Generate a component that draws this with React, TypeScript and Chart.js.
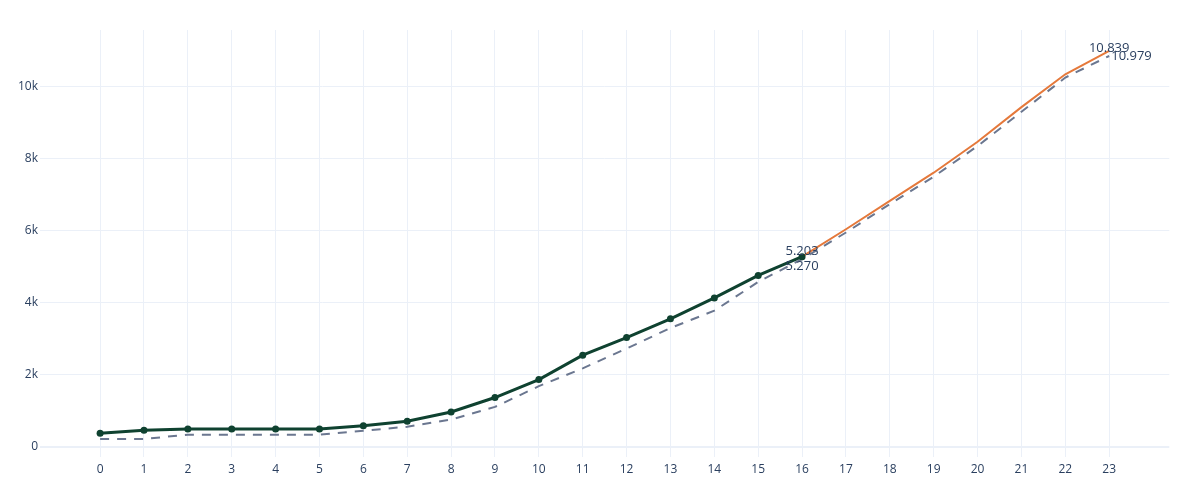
import React, { useEffect, useRef } from "react";
import { Chart, registerables } from "chart.js";

Chart.register(...registerables);

const xTicks = Array.from({ length: 24 }, (_, i) => i);
const categories = [0, 1, 2, 3, 4, 5, 6, 7, 8, 9, 10, 11, 12, 13, 14, 15, 16, 17, 18, 19, 20, 21, 22, 23];
const actual = [370, 450, 490, 490, 490, 490, 580, 705, 960, 1360, 1860, 2535, 3025, 3545, 4125, 4750, 5270];
const forecast = [null, null, null, null, null, null, null, null, null, null, null, null, null, null, null, null, 5270, 6030, 6820, 7600, 8460, 9420, 10330, 10979];
const baseline = [210, 210, 330, 330, 330, 330, 440, 550, 750, 1100, 1675, 2170, 2720, 3290, 3770, 4570, 5203, 5940, 6730, 7490, 8340, 9290, 10240, 10839];
const yTicks = [0, 2000, 4000, 6000, 8000, 10000];
const labelTexts = ["5.203", "5.270", "10.839", "10.979"];
const labelAnchors = [
  { x: 16, y: 5270 },
  { x: 16, y: 5270 },
  { x: 23, y: 10979 },
  { x: 23, y: 10839 },
];

const TEXT = "#2a3f5f";
const GRID = "#EBF0F8";

const labelPlugin = {
  id: "endLabels",
  afterDatasetsDraw(chart: any) {
    const { ctx, scales } = chart;
    const offsets = [
      { dx: 0, dy: -5, align: "center" },
      { dx: 0, dy: 10, align: "center" },
      { dx: 0, dy: -3, align: "center" },
      { dx: 2, dy: 0, align: "left" },
    ];
    ctx.save();
    ctx.font = '13px "Open Sans", Verdana, Arial, sans-serif';
    ctx.fillStyle = TEXT;
    ctx.textBaseline = "middle";
    labelTexts.forEach((t, i) => {
      const a = labelAnchors[i];
      const o = offsets[i];
      const px = scales.x.getPixelForValue(a.x) + o.dx;
      const py = scales.y.getPixelForValue(a.y) + o.dy;
      ctx.textAlign = o.align;
      ctx.fillText(t, px, py);
    });
    ctx.restore();
  },
};

export default function App() {
  const ref = useRef<HTMLCanvasElement>(null);
  useEffect(() => {
    document.body.style.margin = "0";
    const toXY = (arr: (number | null)[]) => arr.map((v, i) => ({ x: categories[i], y: v }));
    const chart = new Chart(ref.current!, {
      type: "line",
      data: {
        datasets: [
          {
            data: toXY(actual) as any,
            borderColor: "#0f4230",
            backgroundColor: "#0f4230",
            borderWidth: 3,
            pointRadius: 3.5,
            pointBorderWidth: 0,
            pointBackgroundColor: "#0f4230",
            order: 0,
          },
          {
            data: toXY(forecast) as any,
            borderColor: "#e5793b",
            borderWidth: 2,
            pointRadius: 0,
            order: 1,
          },
          {
            data: toXY(baseline) as any,
            borderColor: "#6b7790",
            borderWidth: 2,
            borderDash: [9, 8],
            pointRadius: 0,
            order: 2,
          },
        ],
      },
      options: {
        animation: false,
        responsive: true,
        maintainAspectRatio: false,
        spanGaps: false,
        layout: { padding: { left: 0, right: 30.7, top: 30, bottom: 0 } },
        plugins: { legend: { display: false }, tooltip: { enabled: false } },
        scales: {
          x: {
            type: "linear",
            min: -1.37,
            max: 24.37,
            afterBuildTicks: (s: any) => {
              s.ticks = xTicks.map((v) => ({ value: v }));
            },
            afterFit: (s: any) => {
              s.height = 43;
            },
            grid: { color: GRID, lineWidth: 1, drawTicks: false },
            border: { display: false },
            ticks: {
              color: TEXT,
              padding: 5,
              maxRotation: 0,
              autoSkip: false,
              font: { family: '"Open Sans", Verdana, Arial, sans-serif', size: 12 },
              callback: (v: any) => String(v),
            },
          },
          y: {
            type: "linear",
            min: -290,
            max: 11560,
            afterBuildTicks: (s: any) => {
              s.ticks = yTicks.map((v) => ({ value: v }));
            },
            afterFit: (s: any) => {
              s.width = 40;
            },
            grid: {
              color: GRID,
              lineWidth: (c: any) => (c.tick && c.tick.value === 0 ? 2 : 1),
              drawTicks: false,
            },
            border: { display: false },
            ticks: {
              color: TEXT,
              padding: 2,
              font: { family: '"Open Sans", Verdana, Arial, sans-serif', size: 12 },
              callback: (v: any) => (v === 0 ? "0" : v / 1000 + "k"),
            },
          },
        },
      },
      plugins: [labelPlugin],
    });
    return () => chart.destroy();
  }, []);
  return (
    <div style={{ position: "absolute", left: 0, top: 0, width: 1200, height: 500, background: "#fff" }}>
      <canvas ref={ref} />
    </div>
  );
}
